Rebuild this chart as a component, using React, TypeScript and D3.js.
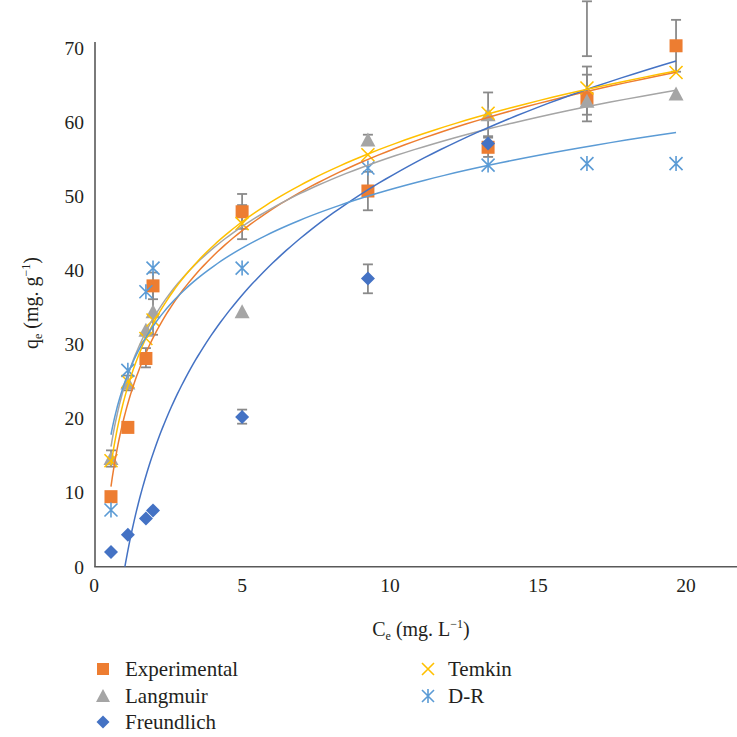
import React from "react";
import * as d3 from "d3";

// ---- data ----
const CE = [0.54, 1.11, 1.72, 1.96, 4.97, 9.22, 13.28, 16.62, 19.63];
const EXPERIMENTAL = [9.45, 18.8, 28.1, 37.9, 47.9, 50.7, 56.6, 63.2, 70.3];
const LANGMUIR = [14.6, 24.8, 31.9, 34.4, 34.4, 57.6, 61.0, 62.8, 63.8];
const FREUNDLICH = [2.0, 4.3, 6.5, 7.6, 20.2, 38.9, 57.1];
const TEMKIN = [14.3, 25.0, 30.8, 33.3, 46.3, 55.6, 61.2, 64.6, 66.7];
const DR = [7.65, 26.5, 37.1, 40.3, 40.3, 53.8, 54.2, 54.4, 54.4];

// logarithmic trendlines y = a ln(x) + b
const TREND_NAMES = ["Experimental", "Langmuir", "Freundlich", "Temkin", "D-R"];
const TREND_A = [15.56, 13.39, 23.0, 14.81, 11.35];
const TREND_B = [20.4, 24.44, -0.23, 22.8, 24.8];

// error bars
const ERR_X = [0.54, 1.11, 1.72, 1.96, 1.96, 4.97, 4.97, 4.97, 9.22, 9.22, 9.22, 13.28, 13.28, 16.62, 16.62, 16.62, 19.63];
const ERR_LOW = [13.5, 23.8, 26.9, 36.1, 31.3, 45.6, 44.2, 19.3, 48.1, 56.9, 36.9, 57.9, 55.3, 68.9, 60.1, 61.0, 66.8];
const ERR_HIGH = [15.7, 25.8, 29.5, 39.7, 37.5, 50.3, 48.8, 21.2, 53.3, 58.3, 40.8, 64.0, 58.1, 76.3, 67.5, 66.4, 73.8];

const X_TICKS = [0, 5, 10, 15, 20];
const Y_TICKS = [0, 10, 20, 30, 40, 50, 60, 70];

const COLORS: Record<string, string> = {
  Experimental: "#ED7D31",
  Langmuir: "#A5A5A5",
  Freundlich: "#4472C4",
  Temkin: "#FFC000",
  "D-R": "#5B9BD5",
};

const FONT = "Liberation Serif, serif";

function Marker({ kind, x, y, s = 13 }: { kind: string; x: number; y: number; s?: number }) {
  const h = s / 2;
  const c = COLORS[kind];
  if (kind === "Experimental")
    return <rect x={x - h} y={y - h} width={s} height={s} fill={c} />;
  if (kind === "Langmuir") {
    const p = d3.path();
    p.moveTo(x, y - h - 1);
    p.lineTo(x + h + 1, y + h);
    p.lineTo(x - h - 1, y + h);
    p.closePath();
    return <path d={p.toString()} fill={c} />;
  }
  if (kind === "Freundlich") {
    const r = h + 0.5;
    const p = d3.path();
    p.moveTo(x, y - r);
    p.lineTo(x + r, y);
    p.lineTo(x, y + r);
    p.lineTo(x - r, y);
    p.closePath();
    return <path d={p.toString()} fill={c} />;
  }
  if (kind === "Temkin") {
    const p = d3.path();
    p.moveTo(x - h, y - h);
    p.lineTo(x + h, y + h);
    p.moveTo(x + h, y - h);
    p.lineTo(x - h, y + h);
    return <path d={p.toString()} stroke={c} strokeWidth={1.6} fill="none" />;
  }
  const p = d3.path();
  p.moveTo(x - h, y - h);
  p.lineTo(x + h, y + h);
  p.moveTo(x + h, y - h);
  p.lineTo(x - h, y + h);
  p.moveTo(x, y - h - 1);
  p.lineTo(x, y + h + 1);
  return <path d={p.toString()} stroke={c} strokeWidth={1.6} fill="none" />;
}

export default function App() {
  const W = 737;
  const H = 737;
  const x = d3.scaleLinear().domain([0, 20]).range([95, 687]);
  const y = d3.scaleLinear().domain([0, 70]).range([566.7, 48]);
  const xMaxPx = 737;
  const yTopPx = 42;

  const series: [string, number[]][] = [
    ["Experimental", EXPERIMENTAL],
    ["Langmuir", LANGMUIR],
    ["Freundlich", FREUNDLICH],
    ["Temkin", TEMKIN],
    ["D-R", DR],
  ];

  const line = d3
    .line<[number, number]>()
    .x((d) => x(d[0]))
    .y((d) => y(d[1]));

  const xEnd = CE[CE.length - 1];
  const trends = TREND_NAMES.map((name, i) => {
    const a = TREND_A[i];
    const b = TREND_B[i];
    const root = Math.exp(-b / a);
    const x0 = Math.max(CE[0], root);
    const n = 120;
    const pts: [number, number][] = d3.range(n + 1).map((k) => {
      const xv = x0 * Math.pow(xEnd / x0, k / n);
      return [xv, a * Math.log(xv) + b];
    });
    return { name, d: line(pts) || "" };
  });

  const axisColor = "#595959";
  const errColor = "#8a8a8a";
  const textColor = "#231f20";

  const legendLeft = [
    ["Experimental", 669],
    ["Langmuir", 696],
    ["Freundlich", 722],
  ] as [string, number][];
  const legendRight = [
    ["Temkin", 669],
    ["D-R", 696],
  ] as [string, number][];

  const ts = { fontFamily: FONT };

  return (
    <svg
      width={W}
      height={H}
      style={{ position: "absolute", left: 0, top: 0, background: "#fff", fontFamily: FONT }}
    >
      <rect width={W} height={H} fill="#fff" />
      {/* axes */}
      <line x1={x(0)} x2={x(0)} y1={yTopPx} y2={y(0)} stroke={axisColor} strokeWidth={1.6} />
      <line x1={x(0) - 0.8} x2={xMaxPx} y1={y(0)} y2={y(0)} stroke={axisColor} strokeWidth={1.6} />

      {/* y tick labels */}
      {Y_TICKS.map((t) => (
        <text key={"y" + t} x={84} y={y(t)} dy="0.35em" textAnchor="end" fontSize={19.5} fill={textColor} style={ts}>
          {t}
        </text>
      ))}
      {/* x tick labels */}
      {X_TICKS.map((t) => (
        <text key={"x" + t} x={x(t) - 1} y={591.5} textAnchor="middle" fontSize={19.5} fill={textColor} style={ts}>
          {t}
        </text>
      ))}

      {/* axis titles */}
      <text x={421} y={636} textAnchor="middle" fontSize={20} fill={textColor} style={ts}>
        C<tspan fontSize={12} dy={4}>e</tspan>
        <tspan dy={-4}> (mg. L</tspan>
        <tspan fontSize={12} dy={-8}>−1</tspan>
        <tspan dy={8}>)</tspan>
      </text>
      <text
        transform={`translate(38,${303}) rotate(-90)`}
        textAnchor="middle"
        fontSize={20}
        fill={textColor}
        style={ts}
      >
        q<tspan fontSize={12} dy={4}>e</tspan>
        <tspan dy={-4}> (mg. g</tspan>
        <tspan fontSize={12} dy={-8}>−1</tspan>
        <tspan dy={8}>)</tspan>
      </text>

      {/* error bars */}
      {ERR_X.map((xv, i) => (
        <g key={"e" + i} stroke={errColor} strokeWidth={1.8}>
          <line x1={x(xv)} x2={x(xv)} y1={y(ERR_LOW[i])} y2={y(ERR_HIGH[i])} />
          <line x1={x(xv) - 5} x2={x(xv) + 5} y1={y(ERR_LOW[i])} y2={y(ERR_LOW[i])} />
          <line x1={x(xv) - 5} x2={x(xv) + 5} y1={y(ERR_HIGH[i])} y2={y(ERR_HIGH[i])} />
        </g>
      ))}

      {/* markers */}
      {series.map(([name, vals]) => (
        <g key={name}>
          {vals.map((v, i) => (
            <Marker key={i} kind={name} x={x(CE[i])} y={y(v)} />
          ))}
        </g>
      ))}

      {/* trendlines */}
      {trends.map((t) => (
        <path key={t.name} d={t.d} fill="none" stroke={COLORS[t.name]} strokeWidth={1.5} />
      ))}

      {/* legend */}
      {legendLeft.map(([name, ly]) => (
        <g key={name}>
          <Marker kind={name} x={103} y={ly} s={12} />
          <text x={125} y={ly} dy="0.33em" fontSize={21} fill={textColor} style={ts}>
            {name}
          </text>
        </g>
      ))}
      {legendRight.map(([name, ly]) => (
        <g key={name}>
          <Marker kind={name} x={428} y={ly} s={12} />
          <text x={448} y={ly} dy="0.33em" fontSize={21} fill={textColor} style={ts}>
            {name}
          </text>
        </g>
      ))}
    </svg>
  );
}
